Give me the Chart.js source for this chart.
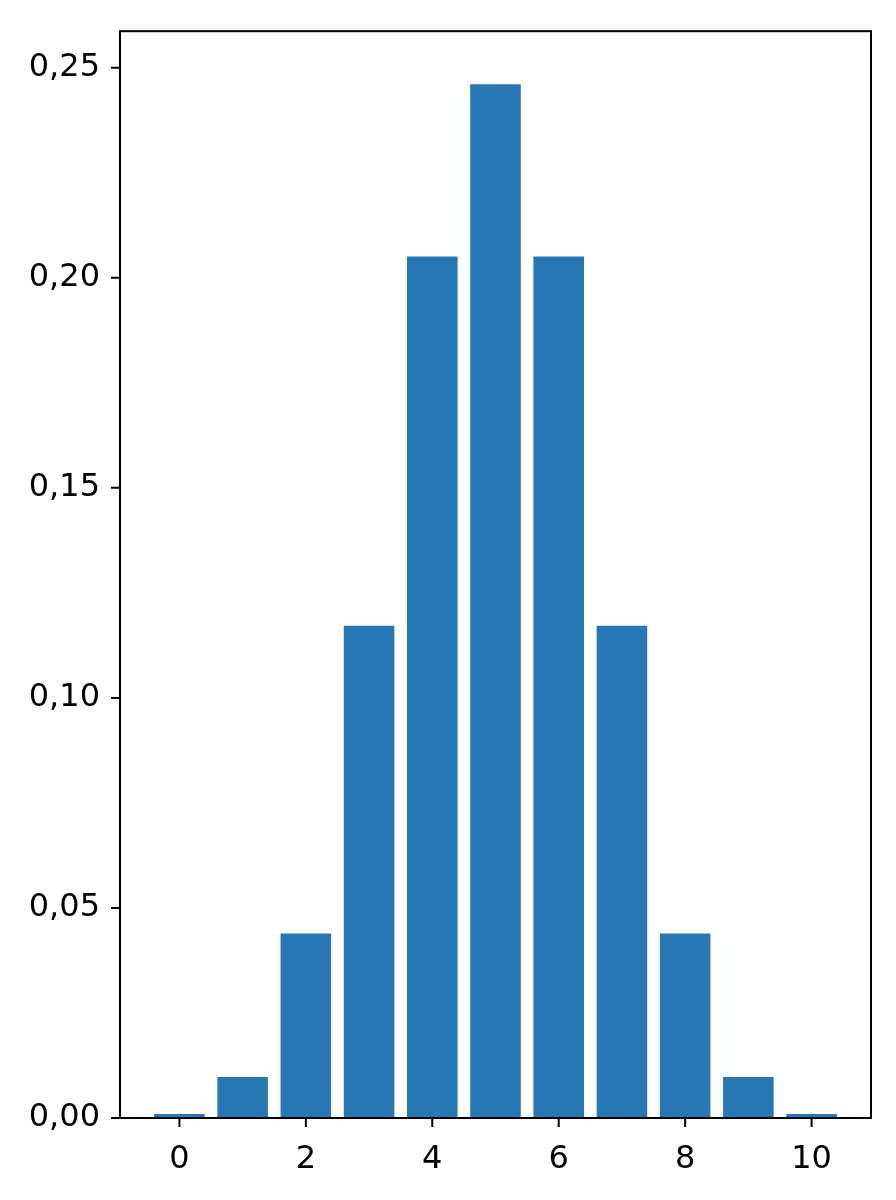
<!DOCTYPE html>
<html><head><meta charset="utf-8">
<script src="https://cdn.jsdelivr.net/npm/chart.js@4"></script>
<style>html,body{margin:0;padding:0;background:#fff}#w{width:896px;height:1200px}</style>
</head><body><div id="w"><canvas id="c"></canvas></div>
<script>
const categories=[0,1,2,3,4,5,6,7,8,9,10];
const values=[0.000977,0.009766,0.043945,0.117188,0.205078,0.246094,0.205078,0.117188,0.043945,0.009766,0.000977];
const xTicks=[0,2,4,6,8,10];
const yTicks=[0,0.05,0.10,0.15,0.20,0.25];
const frame={id:'frame',afterDraw(ch){const a=ch.chartArea,c=ch.ctx;c.save();c.strokeStyle='#000';c.lineWidth=2;c.strokeRect(a.left,a.top,a.right-a.left,a.bottom-a.top);c.restore();}};
new Chart(document.getElementById('c'),{type:'bar',
data:{datasets:[{data:categories.map((x,i)=>({x:x,y:values[i]})),backgroundColor:'#2677b4',barPercentage:1.0,categoryPercentage:0.8}]},
options:{responsive:true,maintainAspectRatio:false,animation:false,
layout:{padding:{top:0,right:25,bottom:0,left:0}},
plugins:{legend:{display:false},tooltip:{enabled:false}},
scales:{
x:{type:'linear',offset:false,min:-0.94,max:10.94,grid:{display:false,drawTicks:false,offset:false},border:{display:false},
afterBuildTicks(ax){ax.ticks=xTicks.map(v=>({value:v}));},
ticks:{color:'#000',font:{family:'DejaVu Sans',size:32},padding:22,callback:v=>String(v)},
afterFit(ax){ax.height=82;}},
y:{min:0,max:0.2587,grid:{display:false},border:{display:false},
afterBuildTicks(ax){ax.ticks=yTicks.map(v=>({value:v}));},
ticks:{color:'#000',font:{family:'DejaVu Sans',size:32},padding:12,callback:v=>v.toFixed(2).replace('.',',')},
afterFit(ax){ax.width=120;}}
}},plugins:[frame,{id:'tk',afterDraw(ch){const c=ch.ctx,a=ch.chartArea;c.save();c.strokeStyle='#000';c.lineWidth=2;c.beginPath();
xTicks.forEach(v=>{const p=ch.scales.x.getPixelForValue(v);c.moveTo(p,a.bottom);c.lineTo(p,a.bottom+9);});
yTicks.forEach(v=>{const p=ch.scales.y.getPixelForValue(v);c.moveTo(a.left,p);c.lineTo(a.left-9,p);});
c.stroke();c.restore();}}]});
</script></body></html>
